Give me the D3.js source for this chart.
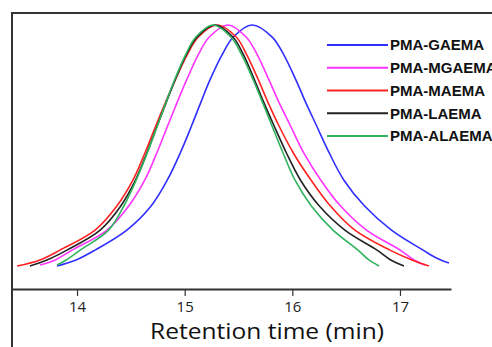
<!DOCTYPE html>
<html>
<head>
<meta charset="utf-8">
<script src="https://cdn.jsdelivr.net/npm/d3@7"></script>
<style>
  html, body { margin: 0; padding: 0; background: #fff; }
  svg { display: block; }
</style>
</head>
<body>
<svg id="chart" width="492" height="347"></svg>
<script>
// ---- data (retention time in min, normalized detector signal) ----
const seriesNames = ["PMA-GAEMA", "PMA-MGAEMA", "PMA-MAEMA", "PMA-LAEMA", "PMA-ALAEMA"];
const seriesColors = ["#2f2fff", "#ff33ff", "#ff2222", "#222222", "#2fb35f"];
const xTicks = [14, 15, 16, 17];

const gaema = [[13.814,0.0],[13.991,0.025],[14.167,0.066],[14.463,0.149],[14.690,0.25],[14.839,0.357],[14.960,0.47],[15.067,0.585],[15.151,0.68],[15.235,0.772],[15.347,0.876],[15.452,0.95],[15.625,1.0],
  [15.813,0.95],[15.921,0.876],[16.033,0.772],[16.123,0.68],[16.222,0.585],[16.342,0.47],[16.478,0.357],[16.669,0.25],[16.921,0.149],[17.214,0.066],[17.343,0.032],[17.455,0.012]];
const mgaema = [[13.656,0.004],[13.796,0.025],[13.954,0.066],[14.279,0.149],[14.482,0.25],[14.630,0.357],[14.742,0.47],[14.845,0.585],[14.931,0.68],[15.018,0.772],[15.126,0.876],[15.229,0.95],[15.402,1.0],
  [15.571,0.95],[15.675,0.876],[15.783,0.772],[15.875,0.68],[15.979,0.585],[16.105,0.47],[16.263,0.357],[16.446,0.25],[16.689,0.149],[17.002,0.066],[17.130,0.025],[17.232,0.004]];
const maema = [[13.443,0.0],[13.656,0.025],[13.842,0.066],[14.168,0.149],[14.372,0.25],[14.520,0.357],[14.632,0.47],[14.735,0.585],[14.823,0.68],[14.913,0.772],[15.023,0.876],[15.127,0.95],[15.300,1.0],
  [15.479,0.95],[15.577,0.876],[15.685,0.772],[15.773,0.68],[15.872,0.585],[16.008,0.47],[16.173,0.357],[16.352,0.25],[16.581,0.149],[16.907,0.066],[17.111,0.025],[17.269,0.0]];
const laema = [[13.563,0.0],[13.721,0.025],[13.906,0.066],[14.215,0.149],[14.408,0.25],[14.544,0.357],[14.650,0.47],[14.748,0.585],[14.830,0.68],[14.911,0.772],[15.014,0.876],[15.116,0.95],[15.282,1.0],
  [15.448,0.95],[15.547,0.876],[15.649,0.772],[15.734,0.68],[15.827,0.585],[15.944,0.47],[16.075,0.357],[16.249,0.25],[16.488,0.149],[16.787,0.066],[16.914,0.025],[17.037,0.0]];
const alaema = [[13.814,0.004],[13.899,0.025],[14.029,0.066],[14.293,0.149],[14.436,0.25],[14.550,0.357],[14.653,0.47],[14.749,0.585],[14.827,0.68],[14.906,0.772],[15.008,0.876],[15.104,0.95],[15.263,1.0],
  [15.429,0.95],[15.530,0.876],[15.637,0.772],[15.722,0.68],[15.808,0.585],[15.913,0.47],[16.024,0.357],[16.175,0.25],[16.378,0.149],[16.610,0.066],[16.712,0.025],[16.805,0.0]];
const seriesData = [gaema, mgaema, maema, laema, alaema];

// ---- layout ----
const svg = d3.select("#chart");
const frameLeft = 12, frameTop = 13, axisY = 289, axisRight = 451;

const x = d3.scaleLinear().domain([13.396, 17.474]).range([frameLeft, axisRight]);
const y = d3.scaleLinear().domain([0, 1]).range([266, 25]);

// frame: left and top lines
svg.append("line").attr("x1", frameLeft).attr("x2", frameLeft).attr("y1", frameTop - 1).attr("y2", 347)
  .attr("stroke", "#333").attr("stroke-width", 2);
svg.append("line").attr("x1", frameLeft - 1).attr("x2", 492).attr("y1", frameTop).attr("y2", frameTop)
  .attr("stroke", "#333").attr("stroke-width", 2);

// x axis
const axis = svg.append("g").attr("transform", `translate(0,${axisY})`)
  .call(d3.axisBottom(x).tickValues(xTicks).tickSize(7).tickSizeOuter(0).tickFormat(d3.format("d")));
axis.select(".domain").attr("stroke", "#333").attr("stroke-width", 2);
axis.selectAll(".tick line").attr("stroke", "#333").attr("stroke-width", 1.2);
axis.selectAll(".tick text")
  .attr("font-family", "'Open Sans', sans-serif").attr("font-size", 15).attr("fill", "#222")
  .attr("y", 12);

svg.append("text").attr("x", 267).attr("y", 339).attr("text-anchor", "middle")
  .attr("font-family", "'Open Sans', sans-serif").attr("font-size", 21).attr("fill", "#111")
  .attr("textLength", 234).attr("lengthAdjust", "spacingAndGlyphs")
  .text("Retention time (min)");

// curves
const line = d3.line().x(d => x(d[0])).y(d => y(d[1])).curve(d3.curveCatmullRom.alpha(0.5));
seriesData.forEach((s, i) => {
  svg.append("path").datum(s).attr("d", line)
    .attr("fill", "none").attr("stroke", seriesColors[i]).attr("stroke-width", 1.6);
});

// legend
const legendY0 = 45, legendStep = 22.75;
seriesNames.forEach((name, i) => {
  const yy = legendY0 + i * legendStep;
  svg.append("line").attr("x1", 327).attr("x2", 388).attr("y1", yy).attr("y2", yy)
    .attr("stroke", seriesColors[i]).attr("stroke-width", 2);
  svg.append("text").attr("x", 390).attr("y", yy).attr("dy", "0.36em")
    .attr("font-family", "'Liberation Sans', Arial, sans-serif").attr("font-weight", "bold")
    .attr("font-size", 15).attr("fill", "#111").text(name);
});
</script>
</body>
</html>
